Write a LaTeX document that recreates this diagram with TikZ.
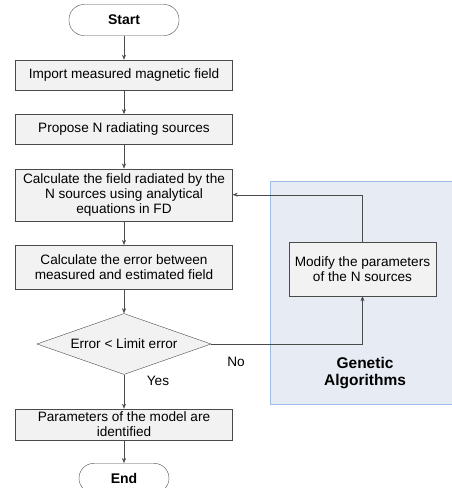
\documentclass[tikz,border=0pt]{standalone}
\usepackage{fontspec}
\setmainfont{Liberation Sans}
\usepackage{tikz}
\usetikzlibrary{arrows.meta, positioning, shapes.geometric}

\definecolor{boxfill}{HTML}{F2F2F2}
\definecolor{boxline}{HTML}{4A4A4A}
\definecolor{gafill}{HTML}{E7ECF4}
\definecolor{galine}{HTML}{9DBCE4}

\begin{document}
\begin{tikzpicture}[
  x=1pt, y=-1pt,
  font=\fontsize{13.6}{15}\selectfont,
  node distance=24pt,
  block/.style={draw=boxline, fill=boxfill, minimum width=217pt, align=center, inner sep=3pt},
  term/.style={draw=boxline, fill=white, rounded corners=15pt, minimum height=31pt, font=\fontsize{14}{15}\selectfont\bfseries},
  decide/.style={draw=boxline, fill=boxfill, diamond, aspect=2.85, minimum width=174pt, minimum height=61pt, inner sep=0pt},
  >={Stealth[length=5pt, width=4pt]}
]
\useasboundingbox (0,0) rectangle (452,488);

% Genetic algorithms panel
\fill[gafill] (270,181) rectangle (452,404);
\draw[galine, line width=1pt] (452,181) -- (270,181) -- (270,404) -- (452,404);
\node[font=\fontsize{15.5}{17}\selectfont\bfseries, align=center] (ga) at (365,373.5) {Genetic\\Algorithms};

% Nodes
\node[term, minimum width=110pt] (start) at (124,20) {Start};                         % begin
\node[block, minimum height=30pt, below=24pt of start] (imp) {Import measured magnetic field};
\node[block, minimum height=30pt, below=24pt of imp] (prop) {Propose N radiating sources};
\node[block, minimum height=52pt, below=24pt of prop] (calc)
  {Calculate the field radiated by the\\N sources using analytical\\equations in FD};
\node[block, minimum height=44pt, below=24pt of calc] (err)
  {Calculate the error between\\measured and estimated field};
\node[decide, below=24pt of err] (dec) {Error < Limit error};                          % test
\node[block, minimum height=27pt, below=34pt of dec] (par)
  {Parameters of the model are\\identified};
\node[term, minimum width=90pt, minimum height=30pt, below=23pt of par] (end) {End}; % stop
\node[block, minimum width=147pt, minimum height=54pt] (mod) at (362.5,269)
  {Modify the parameters\\of the N sources};
\node (yes) at (158,381) {Yes};
\node (no) at (236,362) {No};

% Arrows
\draw[->, boxline] (start) -- (imp);
\draw[->, boxline] (imp) -- (prop);
\draw[->, boxline] (prop) -- (calc);
\draw[->, boxline] (calc) -- (err);
\draw[->, boxline] (err) -- (dec);
\draw[->, boxline] (dec) -- (par);
\draw[->, boxline] (par) -- (end);
\draw[->, boxline] (dec.east) -| (mod.south);   % no: modify
\draw[->, boxline] (mod.north) |- (calc.east);  % back to the model
\end{tikzpicture}
\end{document}
